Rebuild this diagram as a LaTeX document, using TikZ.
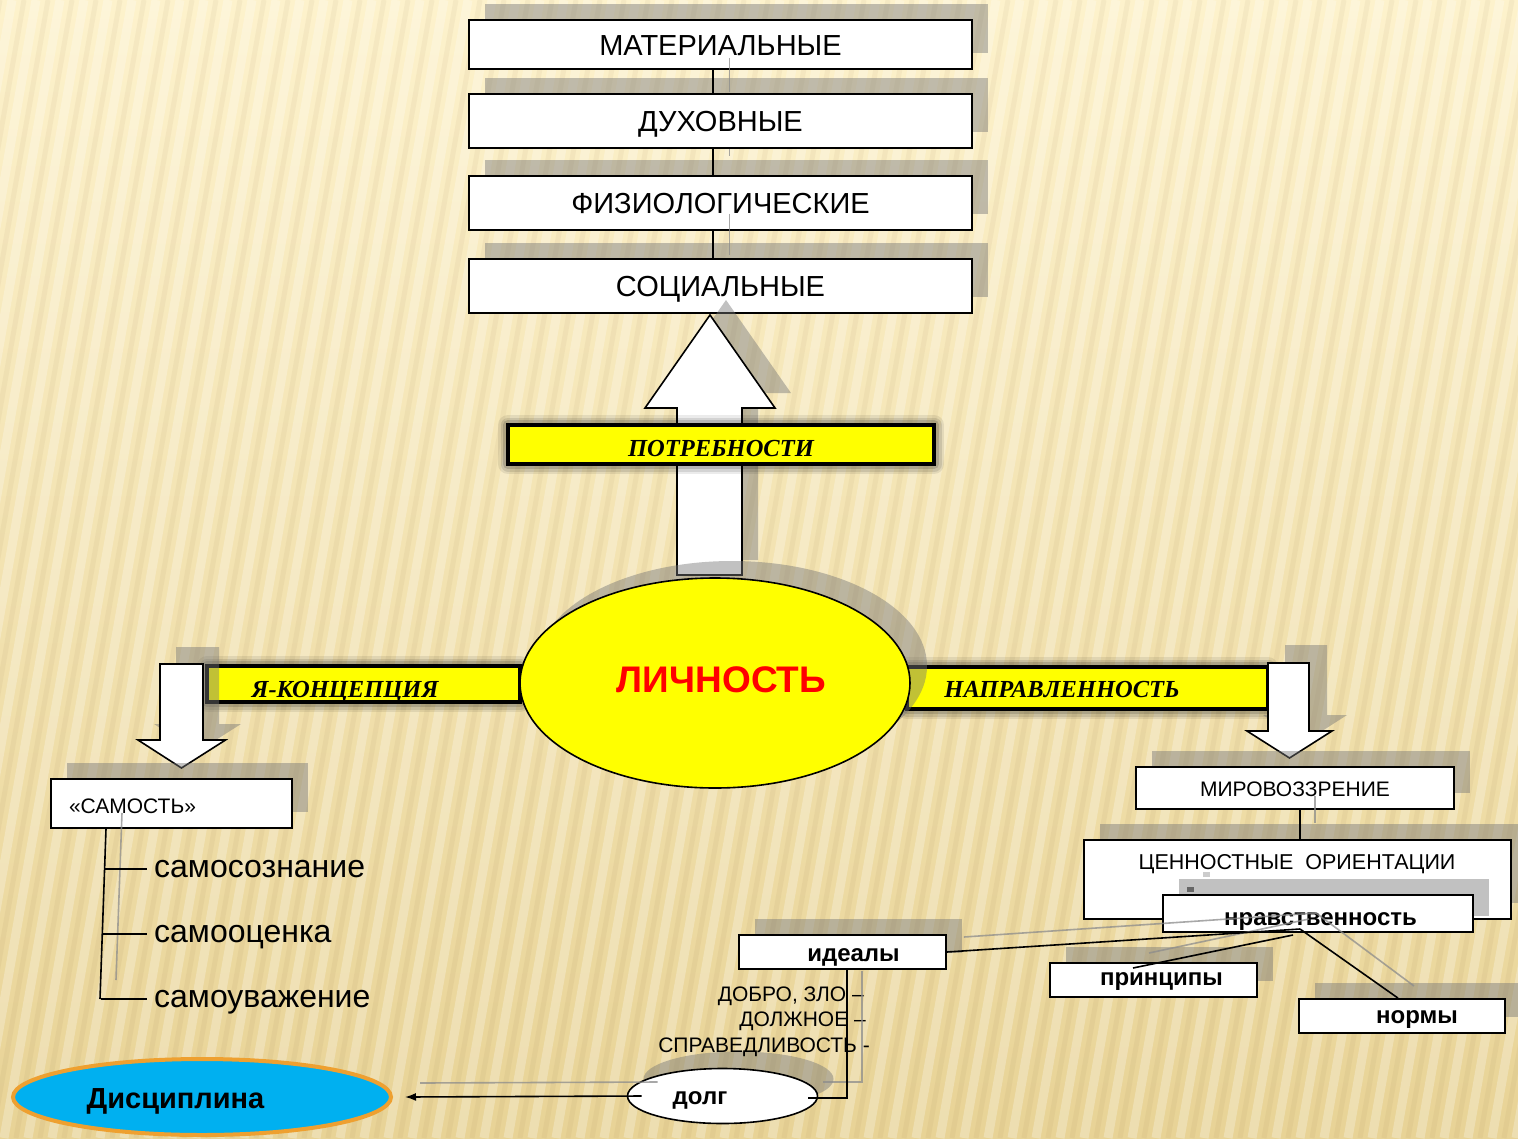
\documentclass[tikz,border=0pt]{standalone}
\usepackage{fontspec}
\setmainfont{Liberation Sans}
\newfontfamily\tnr{Liberation Serif}
\usetikzlibrary{shapes.geometric,shadows,arrows.meta,calc}

\definecolor{bgtop}{RGB}{253,242,204}
\definecolor{bgbot}{RGB}{232,211,150}
\definecolor{shgray}{RGB}{118,118,118}
\definecolor{ylw}{RGB}{255,255,0}
\definecolor{discblue}{RGB}{0,176,240}
\definecolor{discorange}{RGB}{238,160,48}
\definecolor{redtxt}{RGB}{255,0,0}

\newcommand\fsz[1]{\fontsize{#1pt}{#1pt}\selectfont}

\tikzset{
 shd/.style={fill=shgray, fill opacity=0.45, draw=none},
 boxshadow/.style={general shadow={shadow xshift=16pt, shadow yshift=16pt, fill=shgray, fill opacity=0.45}},
 tb/.style={text height=0pt, text depth=0pt},
 wbox/.style={rectangle, draw=black, line width=1.8pt, fill=white, inner sep=0pt, boxshadow, tb},
 topbox/.style={wbox, minimum width=503pt, font=\fsz{29}},
 bar/.style={rectangle, draw=black, line width=4pt, fill=ylw, inner sep=0pt, tb,
   preaction={draw=black, draw opacity=0.08, line width=20pt, line join=round},
   preaction={draw=black, draw opacity=0.10, line width=15pt, line join=round},
   preaction={draw=black, draw opacity=0.14, line width=10pt, line join=round}},
 bartext/.style={font=\tnr\bfseries\itshape\fsz{24.5}, inner sep=0pt, anchor=base},
 conn/.style={draw=black, line width=1.6pt},
 shline/.style={draw=black!45, line width=1.6pt, opacity=0.75},
 blockarrow/.style={fill=white, draw=black, line width=1.6pt, line join=miter},
 bwbox/.style={wbox, minimum width=207pt, minimum height=34pt, font=\bfseries\fsz{24}},
 ellshadow/.style={general shadow={shadow xshift=17pt, shadow yshift=17pt, fill=shgray, fill opacity=0.45}},
 subtext/.style={font=\fsz{32}, inner sep=0pt, anchor=base west},
 smalltext/.style={font=\fsz{21}, inner sep=0pt, anchor=base east},
}

\begin{document}
\begin{tikzpicture}[x=1pt,y=-1pt]
\useasboundingbox (0,0) rectangle (1518,1138);
% background
\shade[top color=bgtop, bottom color=bgbot] (0,0) rectangle (1518,1138);
\begin{scope}
\clip (0,0) rectangle (1518,1138);
\foreach \i in {-300,-276,...,1820} \draw[white, opacity=0.26, line width=9pt] (\i,0) -- ({\i-200},1138);
\foreach \i in {-288,-264,...,1832} \draw[black!40!brown, opacity=0.05, line width=5pt] (\i,0) -- ({\i-200},1138);
\end{scope}

% ---------- top column ----------
\node[topbox, minimum height=49pt] (mat) at (720.5,44.5) {\raisebox{-10.5pt}{МАТЕРИАЛЬНЫЕ}};
\node[topbox, minimum height=54pt] (duh) at (720.5,121) {\raisebox{-10pt}{ДУХОВНЫЕ}};
\node[topbox, minimum height=54pt] (fiz) at (720.5,203) {\raisebox{-10pt}{ФИЗИОЛОГИЧЕСКИЕ}};
\node[topbox, minimum height=54pt] (soc) at (720.5,286) {\raisebox{-10pt}{СОЦИАЛЬНЫЕ}};

\draw[conn] ([xshift=-7.5pt]mat.south) -- ([xshift=-7.5pt]duh.north);
\draw[conn] ([xshift=-7.5pt]duh.south) -- ([xshift=-7.5pt]fiz.north);
\draw[conn] ([xshift=-7.5pt]fiz.south) -- ([xshift=-7.5pt]soc.north);
\draw[shline] ($(mat.south)+(9,-12)$) -- ($(duh.north)+(9,-1)$);
\draw[shline] ($(duh.south)+(9,0)$) -- ($(duh.south)+(9,7)$);
\draw[shline] ($(fiz.south)+(9,-17)$) -- ($(soc.north)+(9,-3)$);

% ---------- up block arrow ----------
\fill[shd] (693,560) -- (693,393) -- (661,393) -- (726,300) -- (791,393) -- (758,393) -- (758,560) -- cycle;
\draw[blockarrow] (677,575) -- (677,408) -- (645,408) -- (710,315) -- (775,408) -- (742,408) -- (742,575) -- cycle;

% ---------- bars ----------
\node[bar, minimum width=426pt, minimum height=39pt, font=\tnr\bfseries\itshape\fsz{24.5}] (potr) at (721,444.5) {\raisebox{-11.5pt}{ПОТРЕБНОСТИ}};
\node[bar, minimum width=313pt, minimum height=36pt] (yak) at (363.5,684) {};
\node[bartext] (yakt) at (345,697.5) {Я-КОНЦЕПЦИЯ};
\node[bar, minimum width=361pt, minimum height=42pt] (napr) at (1087.5,688) {};
\node[bartext] (naprt) at (1062,697.5) {НАПРАВЛЕННОСТЬ};

% ---------- central ellipse ----------
\node[ellipse, draw=black, line width=1.6pt, fill=ylw, minimum width=390pt, minimum height=210pt,
      inner sep=0pt, tb, ellshadow, font=\bfseries\fsz{37}, text=redtxt] (lich) at (715,683)
      {\hspace*{13pt}\raisebox{-9pt}{ЛИЧНОСТЬ}};

% ---------- down block arrows ----------
\fill[shd] (176,647) -- (176,724) -- (154,724) -- (197,752) -- (241,724) -- (219,724) -- (219,647) -- cycle;
\draw[blockarrow] (160,664) -- (160,740) -- (138,740) -- (181.5,768) -- (225.5,740) -- (203,740) -- (203,664) -- cycle;
\fill[shd] (1285,645) -- (1285,715) -- (1263,715) -- (1305,742) -- (1347,715) -- (1327,715) -- (1327,645) -- cycle;
\draw[blockarrow] (1268,663) -- (1268,731) -- (1247,731) -- (1289.5,758) -- (1332,731) -- (1309,731) -- (1309,663) -- cycle;

% ---------- left branch ----------
\node[wbox, minimum height=49pt, font=\fsz{21}, text width=205pt, align=left, inner xsep=18pt] (sam) at (171.5,803.5) {\raisebox{-9.5pt}{«САМОСТЬ»}};
\coordinate (t0) at (106,829);
\coordinate (t3) at (100,999);
\coordinate (b1) at (104.5,869);
\coordinate (b2) at (102.5,934);
\coordinate (b3) at (101,999);
\draw[shline] (122,813) -- (116,980);
\draw[conn] (t0) -- (t3);
\node[subtext] (s1) at (154,877) {самосознание};
\node[subtext] (s2) at (154,942) {самооценка};
\node[subtext] (s3) at (154,1007) {самоуважение};
\draw[conn, shorten >=7pt] (b1) -- (b1 -| s1.west);
\draw[conn, shorten >=7pt] (b2) -- (b2 -| s2.west);
\draw[conn, shorten >=7pt] (b3) -- (b3 -| s3.west);

% ---------- right branch ----------
\node[wbox, minimum width=318pt, minimum height=42pt, font=\fsz{21}] (miro) at (1295,788) {\raisebox{-8pt}{МИРОВОЗЗРЕНИЕ}};
\node[wbox, minimum width=427pt, minimum height=79pt] (cenn) at (1297.5,879.5) {};
\node[font=\fsz{21.5}, inner sep=0pt, anchor=base] (cennt) at (1297,869) {ЦЕННОСТНЫЕ~~ОРИЕНТАЦИИ};
\draw[conn] ([xshift=5pt]miro.south) -- ([xshift=5pt]miro.south |- cenn.north);
\draw[shline] ([xshift=20pt,yshift=14pt]miro.south) -- ([xshift=17.5pt,yshift=16pt]cenn.north);
\fill[black!20] (1203,872) rectangle (1210,877);
\fill[black!65] (1187,887) rectangle (1194,892);

\node[wbox, minimum width=310pt, minimum height=37pt, font=\bfseries\fsz{24}] (nrav) at (1318,913.5) {\hspace*{5pt}\raisebox{-11.5pt}{нравственность}};
\node[bwbox] (ideal) at (842.5,952) {\hspace*{22pt}\raisebox{-9pt}{идеалы}};
\node[bwbox] (princ) at (1153.5,980) {\hspace*{16pt}\raisebox{-5pt}{принципы}};
\node[bwbox, minimum width=206pt] (norm) at (1402,1016) {\hspace*{30pt}\raisebox{-7pt}{нормы}};

\coordinate (j) at (1300,929);
\coordinate (j2) at (1293,935);
\coordinate (pe) at (1133,968);
\coordinate (js) at (1316,913);
\coordinate (js2) at (1309,919);
\draw[shline] (js) -- ([xshift=17pt,yshift=15pt]ideal.east);
\draw[shline] (js2) -- (1149,953);
\draw[shline] (js) -- (1414,986);
\draw[conn] (j) -- (ideal.east);
\draw[conn] (j2) -- (pe);
\draw[conn] (j) -- ([xshift=-4pt]norm.north);

% ---------- bottom ----------
\node[ellipse, draw=black, line width=1.6pt, fill=white, minimum width=190pt, minimum height=55pt,
      inner sep=0pt, tb, general shadow={shadow xshift=16pt, shadow yshift=17pt, fill=shgray, fill opacity=0.45},
      font=\bfseries\fsz{24}] (dolg) at (722.5,1096) {\raisebox{-8pt}{долг}\hspace*{45pt}};
\node[smalltext] (l1) at (864,1001) {ДОБРО, ЗЛО –};
\node[smalltext] (l2) at (866,1026) {ДОЛЖНОЕ –};
\node[smalltext] (l3) at (870,1052) {СПРАВЕДЛИВОСТЬ -};

\node[ellipse, draw=discorange, line width=4pt, fill=discblue, minimum width=378pt, minimum height=76pt,
      inner sep=0pt, tb, font=\bfseries\fsz{29}] (disc) at (202,1097) {\raisebox{-11pt}{Дисциплина}\hspace*{53pt}};

\draw[shline] ([xshift=19.5pt,yshift=-1pt]ideal.south) |- ([xshift=5pt,yshift=14pt]dolg.east);
\draw[shline] ([xshift=27pt,yshift=14pt]disc.east) -- ([xshift=31pt,yshift=14pt]dolg.west);
\draw[conn] ([xshift=4.5pt]ideal.south) |- ([xshift=-10pt,yshift=-2pt]dolg.east);
\draw[conn, -{Latex[length=11pt,width=8pt]}] ([xshift=15pt]dolg.west) -- ([xshift=12pt]disc.east);
\end{tikzpicture}
\end{document}
